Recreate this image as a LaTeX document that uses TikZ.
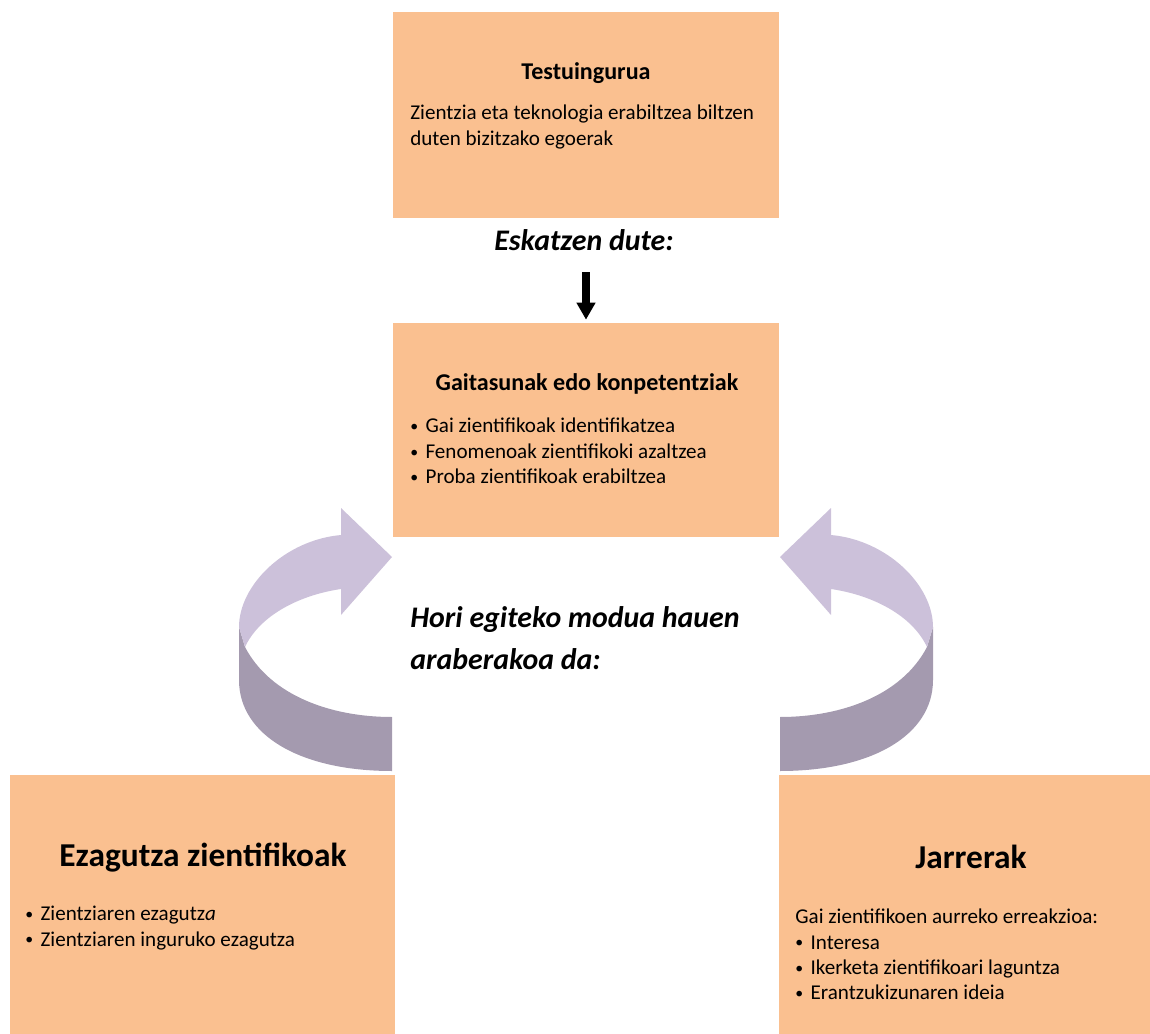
\documentclass[tikz,border=0pt]{standalone}
\usepackage{fontspec}
\setmainfont{Carlito}
\usetikzlibrary{arrows.meta}

\definecolor{laranja}{HTML}{FAC090}
\definecolor{morea}{HTML}{CCC1DA}
\definecolor{moreailuna}{HTML}{A49AAF}

% Buleta txikia
\newcommand{\buleta}{\raisebox{0.12ex}{\fontsize{9}{9}\selectfont•}\hspace{0.35em}}

% Gezi kurbatua (ezkerrekoa; eskuinekoa ispiluan)
\newcommand{\gezikurba}{%
  \fill[moreailuna] (239,627) -- (245,647) .. controls (270,695) and (330,717) .. (392,717)
    -- (392,771) .. controls (300,771) and (239,735) .. (239,680) -- cycle;
  \fill[morea] (239,627) .. controls (239,585) and (285,540) .. (341,535) -- (341,508) -- (392,557)
    -- (341,615) -- (341,589) .. controls (300,595) and (260,615) .. (245,647) -- cycle;
}

\begin{document}
\begin{tikzpicture}[x=0.02cm, y=-0.02cm, >=Stealth,
    every node/.style={font=\fontsize{12}{14.4}\selectfont, inner sep=0pt},
    kutxa/.style={fill=laranja},
    izenburu/.style={font=\fontsize{13.7}{16}\selectfont\bfseries},
    izenburuhandi/.style={font=\fontsize{19}{22}\selectfont\bfseries},
    lotura/.style={font=\fontsize{17}{23.8}\selectfont\bfseries\itshape, align=left},
    zerrenda/.style={align=left, anchor=west},
    gezibeltz/.style={line width=0.16cm, -{Triangle[length=0.34cm, width=0.36cm]}, shorten >=0.06cm}]
    \useasboundingbox (0,0) rectangle (1150,1034);

    % Kutxak
    \node[kutxa, minimum width=7.72cm, minimum height=4.12cm] (testu) at (586,115) {};
    \node[kutxa, minimum width=7.72cm, minimum height=4.28cm] (gaitasun) at (586,430) {};
    \node[kutxa, minimum width=7.7cm, minimum height=5.18cm] (ezagutza) at (202.5,904.5) {};
    \node[kutxa, minimum width=7.42cm, minimum height=5.18cm] (jarrera) at (964.5,904.5) {};

    % Testuingurua
    \node[izenburu] (testuT) at (586,73) {Testuingurua};
    \node[zerrenda] (testuB) at (410,127) {Zientzia eta teknologia erabiltzea biltzen\\duten bizitzako egoerak};

    % Eskatzen dute + gezia
    \node[lotura] (eskatzen) at (584,240) {Eskatzen dute:};
    \coordinate (geziA) at (586,272);
    \draw[gezibeltz] (geziA) -- (gaitasun.north);

    % Gaitasunak
    \node[izenburu] (gaitasunT) at (587,384) {Gaitasunak edo konpetentziak};
    \node[zerrenda] (gaitasunB) at (410,451) {\buleta Gai zientifikoak identifikatzea\\\buleta Fenomenoak zientifikoki azaltzea\\\buleta Proba zientifikoak erabiltzea};

    % Gezi kurbatuak
    \gezikurba
    \begin{scope}[shift={(1172,0)}, xscale=-1]
        \gezikurba
    \end{scope}
    \node[lotura, anchor=west] (hori) at (410,638) {Hori egiteko modua hauen\\araberakoa da:};

    % Ezagutza zientifikoak
    \node[izenburuhandi] (ezagutzaT) at (203,858) {Ezagutza zientifikoak};
    \node[zerrenda] (ezagutzaB) at (25,928) {\buleta Zientziaren ezagutz\textit{a}\\\buleta Zientziaren inguruko ezagutza};

    % Jarrerak
    \node[izenburuhandi] (jarreraT) at (971,857) {Jarrerak};
    \node[zerrenda] (jarreraB) at (795,954.5) {Gai zientifikoen aurreko erreakzioa:\\\buleta Interesa\\\buleta Ikerketa zientifikoari laguntza\\\buleta Erantzukizunaren ideia};
\end{tikzpicture}
\end{document}
